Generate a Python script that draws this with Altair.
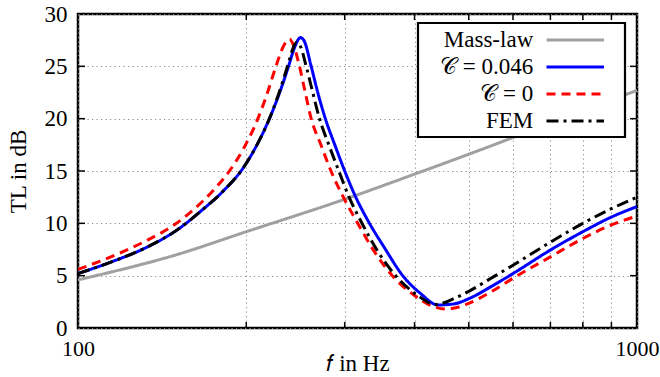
import altair as alt
import pandas as pd

# ---- data ----
series_names = ["Mass-law", "𝒞 = 0.046", "𝒞 = 0", "FEM"]
series_colors = ["#a0a0a0", "#0000ff", "#ff0000", "#000000"]
series_dashes = [[1, 0], [1, 0], [9, 6], [12, 5, 3, 5]]

f_mass = [100, 150, 200, 300, 400, 500, 600, 700, 800, 900, 1000]
tl_mass = [4.6, 7.0, 9.2, 12.3, 14.7, 16.6, 18.2, 19.6, 20.8, 21.8, 22.7]

f_c046 = [100, 114.5, 131.4, 150.7, 167, 182, 197.5, 209, 220, 229.5, 238,
          244, 250, 254, 261.3, 268.5, 277, 288, 300, 314, 329, 354, 381, 410,
          440, 470, 500, 550, 600, 700, 800, 900, 1000]
tl_c046 = [5.2, 6.3, 7.6, 9.4, 11.3, 13.1, 15.3, 17.5, 20.0, 22.5, 25.0,
           26.8, 27.75, 27.4, 25.0, 22.5, 20.0, 17.5, 15.0, 12.5, 10.4, 7.6, 5.0, 3.3,
           2.2, 2.3, 2.8, 4.0, 5.2, 7.45, 9.2, 10.6, 11.6]

f_c0 = [100, 114.5, 131.4, 150, 161.7, 175, 186.6, 198, 209.8, 218, 226, 233, 239,
        243, 249, 255, 261.3, 272, 283.5, 299, 315, 339, 365, 400, 430, 456, 480,
        500, 550, 600, 700, 800, 900, 1000]
tl_c0 = [5.6, 6.8, 8.25, 10.0, 11.4, 13.2, 15.0, 17.2, 20.0, 22.4, 25.0, 26.9, 27.6,
         27.0, 25.0, 22.5, 20.0, 17.5, 15.0, 12.4, 10.2, 7.3, 5.0, 3.1, 2.1, 1.8, 2.0,
         2.35, 3.5, 4.75, 6.8, 8.55, 9.85, 10.7]

f_fem = [100, 114.5, 131.4, 150.7, 167, 182, 197.5, 209, 220, 229, 237,
         242, 246, 250, 256, 263, 270.4, 281, 292.8, 306, 320, 344, 370, 403, 437,
         470, 500, 550, 600, 700, 800, 900, 1000]
tl_fem = [5.2, 6.3, 7.6, 9.4, 11.3, 13.1, 15.3, 17.5, 20.0, 22.5, 25.0,
          26.6, 27.3, 26.9, 25.0, 22.5, 20.0, 17.5, 15.0, 12.4, 10.3, 7.3, 5.0, 3.2, 2.25,
          2.8, 3.5, 4.8, 6.0, 8.2, 10.0, 11.4, 12.5]

x_grid_ticks = [100, 200, 300, 400, 500, 600, 700, 800, 900, 1000]
x_minor_ticks = [200, 300, 400, 500, 600, 700, 800, 900]
y_ticks = [0, 5, 10, 15, 20, 25, 30]
y_inner_ticks = [5, 10, 15, 20, 25]

# ---- table ----
rows = []
for name, fs, ts in [(series_names[0], f_mass, tl_mass),
                     (series_names[1], f_c046, tl_c046),
                     (series_names[2], f_c0, tl_c0),
                     (series_names[3], f_fem, tl_fem)]:
    for i, (f, t) in enumerate(zip(fs, ts)):
        rows.append({"f": f, "tl": t, "series": name, "i": i})
df = pd.DataFrame(rows)

W, H = 559, 314
FONT = "Liberation Serif"

xscale = alt.Scale(type="log", domain=[100, 1000], nice=False)
yscale = alt.Scale(domain=[0, 30], nice=False)

x_axis = alt.Axis(
    values=x_grid_ticks, title="𝑓 in Hz",
    labelExpr="datum.value == 100 || datum.value == 1000 ? format(datum.value, 'd') : ''",
    grid=True, ticks=False, domain=False, labelPadding=10, labelFontSize=22,
    labelFlush=False, titleY=42, titleBaseline="alphabetic")
y_axis = alt.Axis(
    values=y_ticks, title="TL in dB", grid=True, ticks=False, domain=False,
    labelPadding=11, titlePadding=14)

legend = alt.Legend(
    title=None, orient="none", legendX=476, legendY=13,
    symbolType="M-2.5,0H2.5", symbolSize=529, symbolStrokeWidth=3,
    symbolOffset=8.25,
    labelFont=FONT, labelFontSize=23, labelColor="black",
    labelAlign="right", labelOffset={"expr": "-55"}, labelLimit=300,
    padding=0, rowPadding=2,
)

lines = alt.Chart(df).mark_line(strokeWidth=3, interpolate="monotone", clip=True).encode(
    x=alt.X("f:Q", scale=xscale, axis=x_axis),
    y=alt.Y("tl:Q", scale=yscale, axis=y_axis),
    color=alt.Color("series:N", scale=alt.Scale(domain=series_names, range=series_colors),
                    legend=legend),
    strokeDash=alt.StrokeDash("series:N", scale=alt.Scale(domain=series_names, range=series_dashes),
                              legend=legend),
    order="i:Q",
)

legend_box = alt.Chart(pd.DataFrame({"k": [0]})).mark_rect(
    fill="white", stroke="black", strokeWidth=2.2
).encode(x=alt.value(340), x2=alt.value(547), y=alt.value(9), y2=alt.value(123))

xt = pd.DataFrame({"f": x_minor_ticks})
yt = pd.DataFrame({"tl": y_inner_ticks})
tick_style = dict(color="black", strokeWidth=1.5)
xt_bottom = alt.Chart(xt).mark_rule(**tick_style).encode(
    x=alt.X("f:Q", scale=xscale, axis=x_axis), y=alt.value(H), y2=alt.value(H - 6))
xt_top = alt.Chart(xt).mark_rule(**tick_style).encode(
    x=alt.X("f:Q", scale=xscale, axis=x_axis), y=alt.value(0), y2=alt.value(6))
yt_left = alt.Chart(yt).mark_rule(**tick_style).encode(
    y=alt.Y("tl:Q", scale=yscale, axis=y_axis), x=alt.value(0), x2=alt.value(7))
yt_right = alt.Chart(yt).mark_rule(**tick_style).encode(
    y=alt.Y("tl:Q", scale=yscale, axis=y_axis), x=alt.value(W), x2=alt.value(W - 7))

chart = alt.layer(lines, legend_box, xt_bottom, xt_top, yt_left, yt_right).properties(
    width=W, height=H,
    autosize=alt.AutoSizeParams(type="none"),
    padding={"left": 78, "top": 14, "right": 23, "bottom": 49},
).configure_view(
    stroke="black", strokeWidth=2.5
).configure_axis(
    labelFont=FONT, labelFontSize=23, labelColor="black",
    titleFont=FONT, titleFontSize=23, titleFontWeight="normal", titleColor="black",
    gridColor="#8a8a8a", gridDash=[1.2, 3.3], gridWidth=1, gridOpacity=1,
)

chart.save("out.html", embed_options={"renderer": "svg", "actions": False})
